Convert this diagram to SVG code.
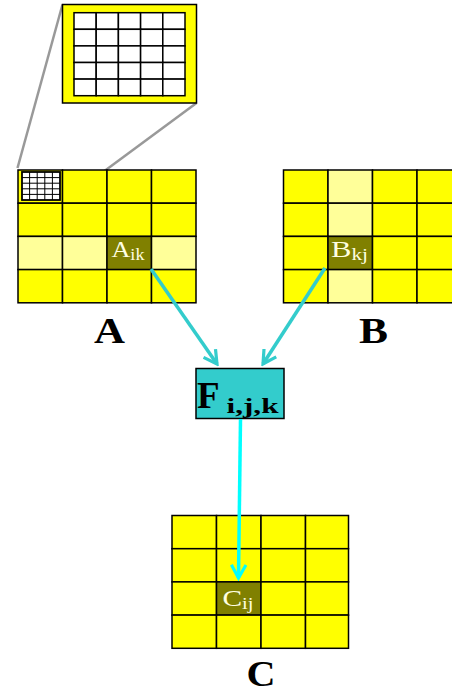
<svg xmlns="http://www.w3.org/2000/svg" width="452" height="694" viewBox="0 0 452 694">
  <style>
    .cell { fill: #FFFF00; stroke: #000; stroke-width: 1.5; }
    .lite { fill: #FFFF99; stroke: #000; stroke-width: 1.5; }
    .dark { fill: #808000; stroke: #000; stroke-width: 1.5; }
    .wcell { fill: #FFFFFF; stroke: #000; stroke-width: 1.5; }
    .zoomline { stroke: #999999; stroke-width: 2.5; fill: none; }
    .elem { font-family: "Liberation Serif", "Times New Roman", serif; fill: #FFFFE0; font-size: 23px; }
    .sub { font-size: 16px; }
    .title { font-family: "Liberation Serif", "Times New Roman", serif; font-weight: bold; font-size: 35px; fill: #000; }
    .flow { stroke: #33CCCC; stroke-width: 3.5; fill: none; }
    .flow2 { stroke: #00FFFF; stroke-width: 3.5; fill: none; }
  </style>
  <defs>
    <marker id="headTeal" viewBox="0 0 12 12" refX="10" refY="6" markerWidth="5" markerHeight="5" orient="auto" markerUnits="strokeWidth">
      <polyline points="1,1 10,6 1,11" fill="none" stroke="#33CCCC" stroke-width="2.2"/>
    </marker>
    <marker id="headCyan" viewBox="0 0 12 12" refX="10" refY="6" markerWidth="5" markerHeight="5" orient="auto" markerUnits="strokeWidth">
      <polyline points="1,1 10,6 1,11" fill="none" stroke="#00FFFF" stroke-width="2.2"/>
    </marker>
  </defs>

  <!-- zoom lines from block to magnified inset -->
  <g id="zoom-lines">
    <line class="zoomline" x1="62.5" y1="4.5" x2="17.5" y2="168"/>
    <line class="zoomline" x1="196.5" y1="103" x2="62.5" y2="202"/>
  </g>

  <!-- magnified inset of one block -->
  <g id="inset">
    <rect x="62.5" y="4.5" width="134" height="98.5" fill="#FFFF00" stroke="#000" stroke-width="1.5"/>
    <g class="wcell">
      <rect x="74" y="12.7" width="22.2" height="16.6"/>
      <rect x="96.2" y="12.7" width="22.2" height="16.6"/>
      <rect x="118.4" y="12.7" width="22.2" height="16.6"/>
      <rect x="140.6" y="12.7" width="22.2" height="16.6"/>
      <rect x="162.8" y="12.7" width="22.2" height="16.6"/>
      <rect x="74" y="29.3" width="22.2" height="16.6"/>
      <rect x="96.2" y="29.3" width="22.2" height="16.6"/>
      <rect x="118.4" y="29.3" width="22.2" height="16.6"/>
      <rect x="140.6" y="29.3" width="22.2" height="16.6"/>
      <rect x="162.8" y="29.3" width="22.2" height="16.6"/>
      <rect x="74" y="45.9" width="22.2" height="16.6"/>
      <rect x="96.2" y="45.9" width="22.2" height="16.6"/>
      <rect x="118.4" y="45.9" width="22.2" height="16.6"/>
      <rect x="140.6" y="45.9" width="22.2" height="16.6"/>
      <rect x="162.8" y="45.9" width="22.2" height="16.6"/>
      <rect x="74" y="62.5" width="22.2" height="16.6"/>
      <rect x="96.2" y="62.5" width="22.2" height="16.6"/>
      <rect x="118.4" y="62.5" width="22.2" height="16.6"/>
      <rect x="140.6" y="62.5" width="22.2" height="16.6"/>
      <rect x="162.8" y="62.5" width="22.2" height="16.6"/>
      <rect x="74" y="79.1" width="22.2" height="16.6"/>
      <rect x="96.2" y="79.1" width="22.2" height="16.6"/>
      <rect x="118.4" y="79.1" width="22.2" height="16.6"/>
      <rect x="140.6" y="79.1" width="22.2" height="16.6"/>
      <rect x="162.8" y="79.1" width="22.2" height="16.6"/>
    </g>
  </g>

  <!-- matrix A -->
  <g id="matrix-A">
    <rect class="cell" x="18" y="170" width="44.5" height="33.2"/>
    <rect class="cell" x="62.5" y="170" width="44.5" height="33.2"/>
    <rect class="cell" x="107" y="170" width="44.5" height="33.2"/>
    <rect class="cell" x="151.5" y="170" width="44.5" height="33.2"/>
    <rect class="cell" x="18" y="203.2" width="44.5" height="33.2"/>
    <rect class="cell" x="62.5" y="203.2" width="44.5" height="33.2"/>
    <rect class="cell" x="107" y="203.2" width="44.5" height="33.2"/>
    <rect class="cell" x="151.5" y="203.2" width="44.5" height="33.2"/>
    <rect class="lite" x="18" y="236.4" width="44.5" height="33.2"/>
    <rect class="lite" x="62.5" y="236.4" width="44.5" height="33.2"/>
    <rect class="dark" x="107" y="236.4" width="44.5" height="33.2"/>
    <rect class="lite" x="151.5" y="236.4" width="44.5" height="33.2"/>
    <rect class="cell" x="18" y="269.6" width="44.5" height="33.2"/>
    <rect class="cell" x="62.5" y="269.6" width="44.5" height="33.2"/>
    <rect class="cell" x="107" y="269.6" width="44.5" height="33.2"/>
    <rect class="cell" x="151.5" y="269.6" width="44.5" height="33.2"/>
    <!-- small grid inside the first block -->
    <g fill="#FFFFFF" stroke="#000" stroke-width="1">
      <rect x="22" y="172" width="38" height="28" stroke-width="1.8"/>
      <path d="M29.6 172V200M37.2 172V200M44.8 172V200M52.4 172V200M22 177.6H60M22 183.2H60M22 188.8H60M22 194.4H60" fill="none"/>
    </g>
    <text class="elem" x="111.5" y="257" textLength="33" lengthAdjust="spacingAndGlyphs">A<tspan class="sub" dy="3">ik</tspan></text>
    <text class="title" x="94" y="343" textLength="31" lengthAdjust="spacingAndGlyphs">A</text>
  </g>

  <!-- matrix B -->
  <g id="matrix-B">
    <rect class="cell" x="283.5" y="170" width="44.5" height="33.2"/>
    <rect class="lite" x="328" y="170" width="44.5" height="33.2"/>
    <rect class="cell" x="372.5" y="170" width="44.5" height="33.2"/>
    <rect class="cell" x="417" y="170" width="44.5" height="33.2"/>
    <rect class="cell" x="283.5" y="203.2" width="44.5" height="33.2"/>
    <rect class="lite" x="328" y="203.2" width="44.5" height="33.2"/>
    <rect class="cell" x="372.5" y="203.2" width="44.5" height="33.2"/>
    <rect class="cell" x="417" y="203.2" width="44.5" height="33.2"/>
    <rect class="cell" x="283.5" y="236.4" width="44.5" height="33.2"/>
    <rect class="dark" x="328" y="236.4" width="44.5" height="33.2"/>
    <rect class="cell" x="372.5" y="236.4" width="44.5" height="33.2"/>
    <rect class="cell" x="417" y="236.4" width="44.5" height="33.2"/>
    <rect class="cell" x="283.5" y="269.6" width="44.5" height="33.2"/>
    <rect class="lite" x="328" y="269.6" width="44.5" height="33.2"/>
    <rect class="cell" x="372.5" y="269.6" width="44.5" height="33.2"/>
    <rect class="cell" x="417" y="269.6" width="44.5" height="33.2"/>
    <text class="elem" x="331" y="257" textLength="37" lengthAdjust="spacingAndGlyphs">B<tspan class="sub" dy="3">kj</tspan></text>
    <text class="title" x="359" y="343" textLength="29" lengthAdjust="spacingAndGlyphs">B</text>
  </g>

  <!-- combining function -->
  <g id="func-F">
    <rect x="196" y="368.5" width="88" height="50" fill="#33CCCC" stroke="#000" stroke-width="1.5"/>
    <text x="197" y="407.5" font-family="Liberation Serif, Times New Roman, serif" font-weight="bold" font-size="37" fill="#000">F</text>
    <text x="226.5" y="412.5" font-family="Liberation Serif, Times New Roman, serif" font-weight="bold" font-size="22" fill="#000" textLength="52" lengthAdjust="spacingAndGlyphs">i,j,k</text>
  </g>

  <!-- matrix C -->
  <g id="matrix-C">
    <rect class="cell" x="172" y="515.5" width="44.5" height="33.2"/>
    <rect class="cell" x="216.5" y="515.5" width="44.5" height="33.2"/>
    <rect class="cell" x="261" y="515.5" width="44.5" height="33.2"/>
    <rect class="cell" x="305.5" y="515.5" width="43" height="33.2"/>
    <rect class="cell" x="172" y="548.7" width="44.5" height="33.2"/>
    <rect class="cell" x="216.5" y="548.7" width="44.5" height="33.2"/>
    <rect class="cell" x="261" y="548.7" width="44.5" height="33.2"/>
    <rect class="cell" x="305.5" y="548.7" width="43" height="33.2"/>
    <rect class="cell" x="172" y="581.9" width="44.5" height="33.2"/>
    <rect class="dark" x="216.5" y="581.9" width="44.5" height="33.2"/>
    <rect class="cell" x="261" y="581.9" width="44.5" height="33.2"/>
    <rect class="cell" x="305.5" y="581.9" width="43" height="33.2"/>
    <rect class="cell" x="172" y="615.1" width="44.5" height="33.2"/>
    <rect class="cell" x="216.5" y="615.1" width="44.5" height="33.2"/>
    <rect class="cell" x="261" y="615.1" width="44.5" height="33.2"/>
    <rect class="cell" x="305.5" y="615.1" width="43" height="33.2"/>
    <text class="elem" x="222.5" y="606" textLength="31" lengthAdjust="spacingAndGlyphs">C<tspan class="sub" dy="3">ij</tspan></text>
    <text class="title" x="246.5" y="686" textLength="29" lengthAdjust="spacingAndGlyphs">C</text>
  </g>

  <!-- data flow connectors -->
  <g id="connectors">
    <line class="flow" x1="151" y1="269" x2="217" y2="364" marker-end="url(#headTeal)"/>
    <line class="flow" x1="325" y1="268" x2="263" y2="364" marker-end="url(#headTeal)"/>
    <line class="flow2" x1="240.5" y1="419" x2="238.5" y2="578" marker-end="url(#headCyan)"/>
  </g>
</svg>
